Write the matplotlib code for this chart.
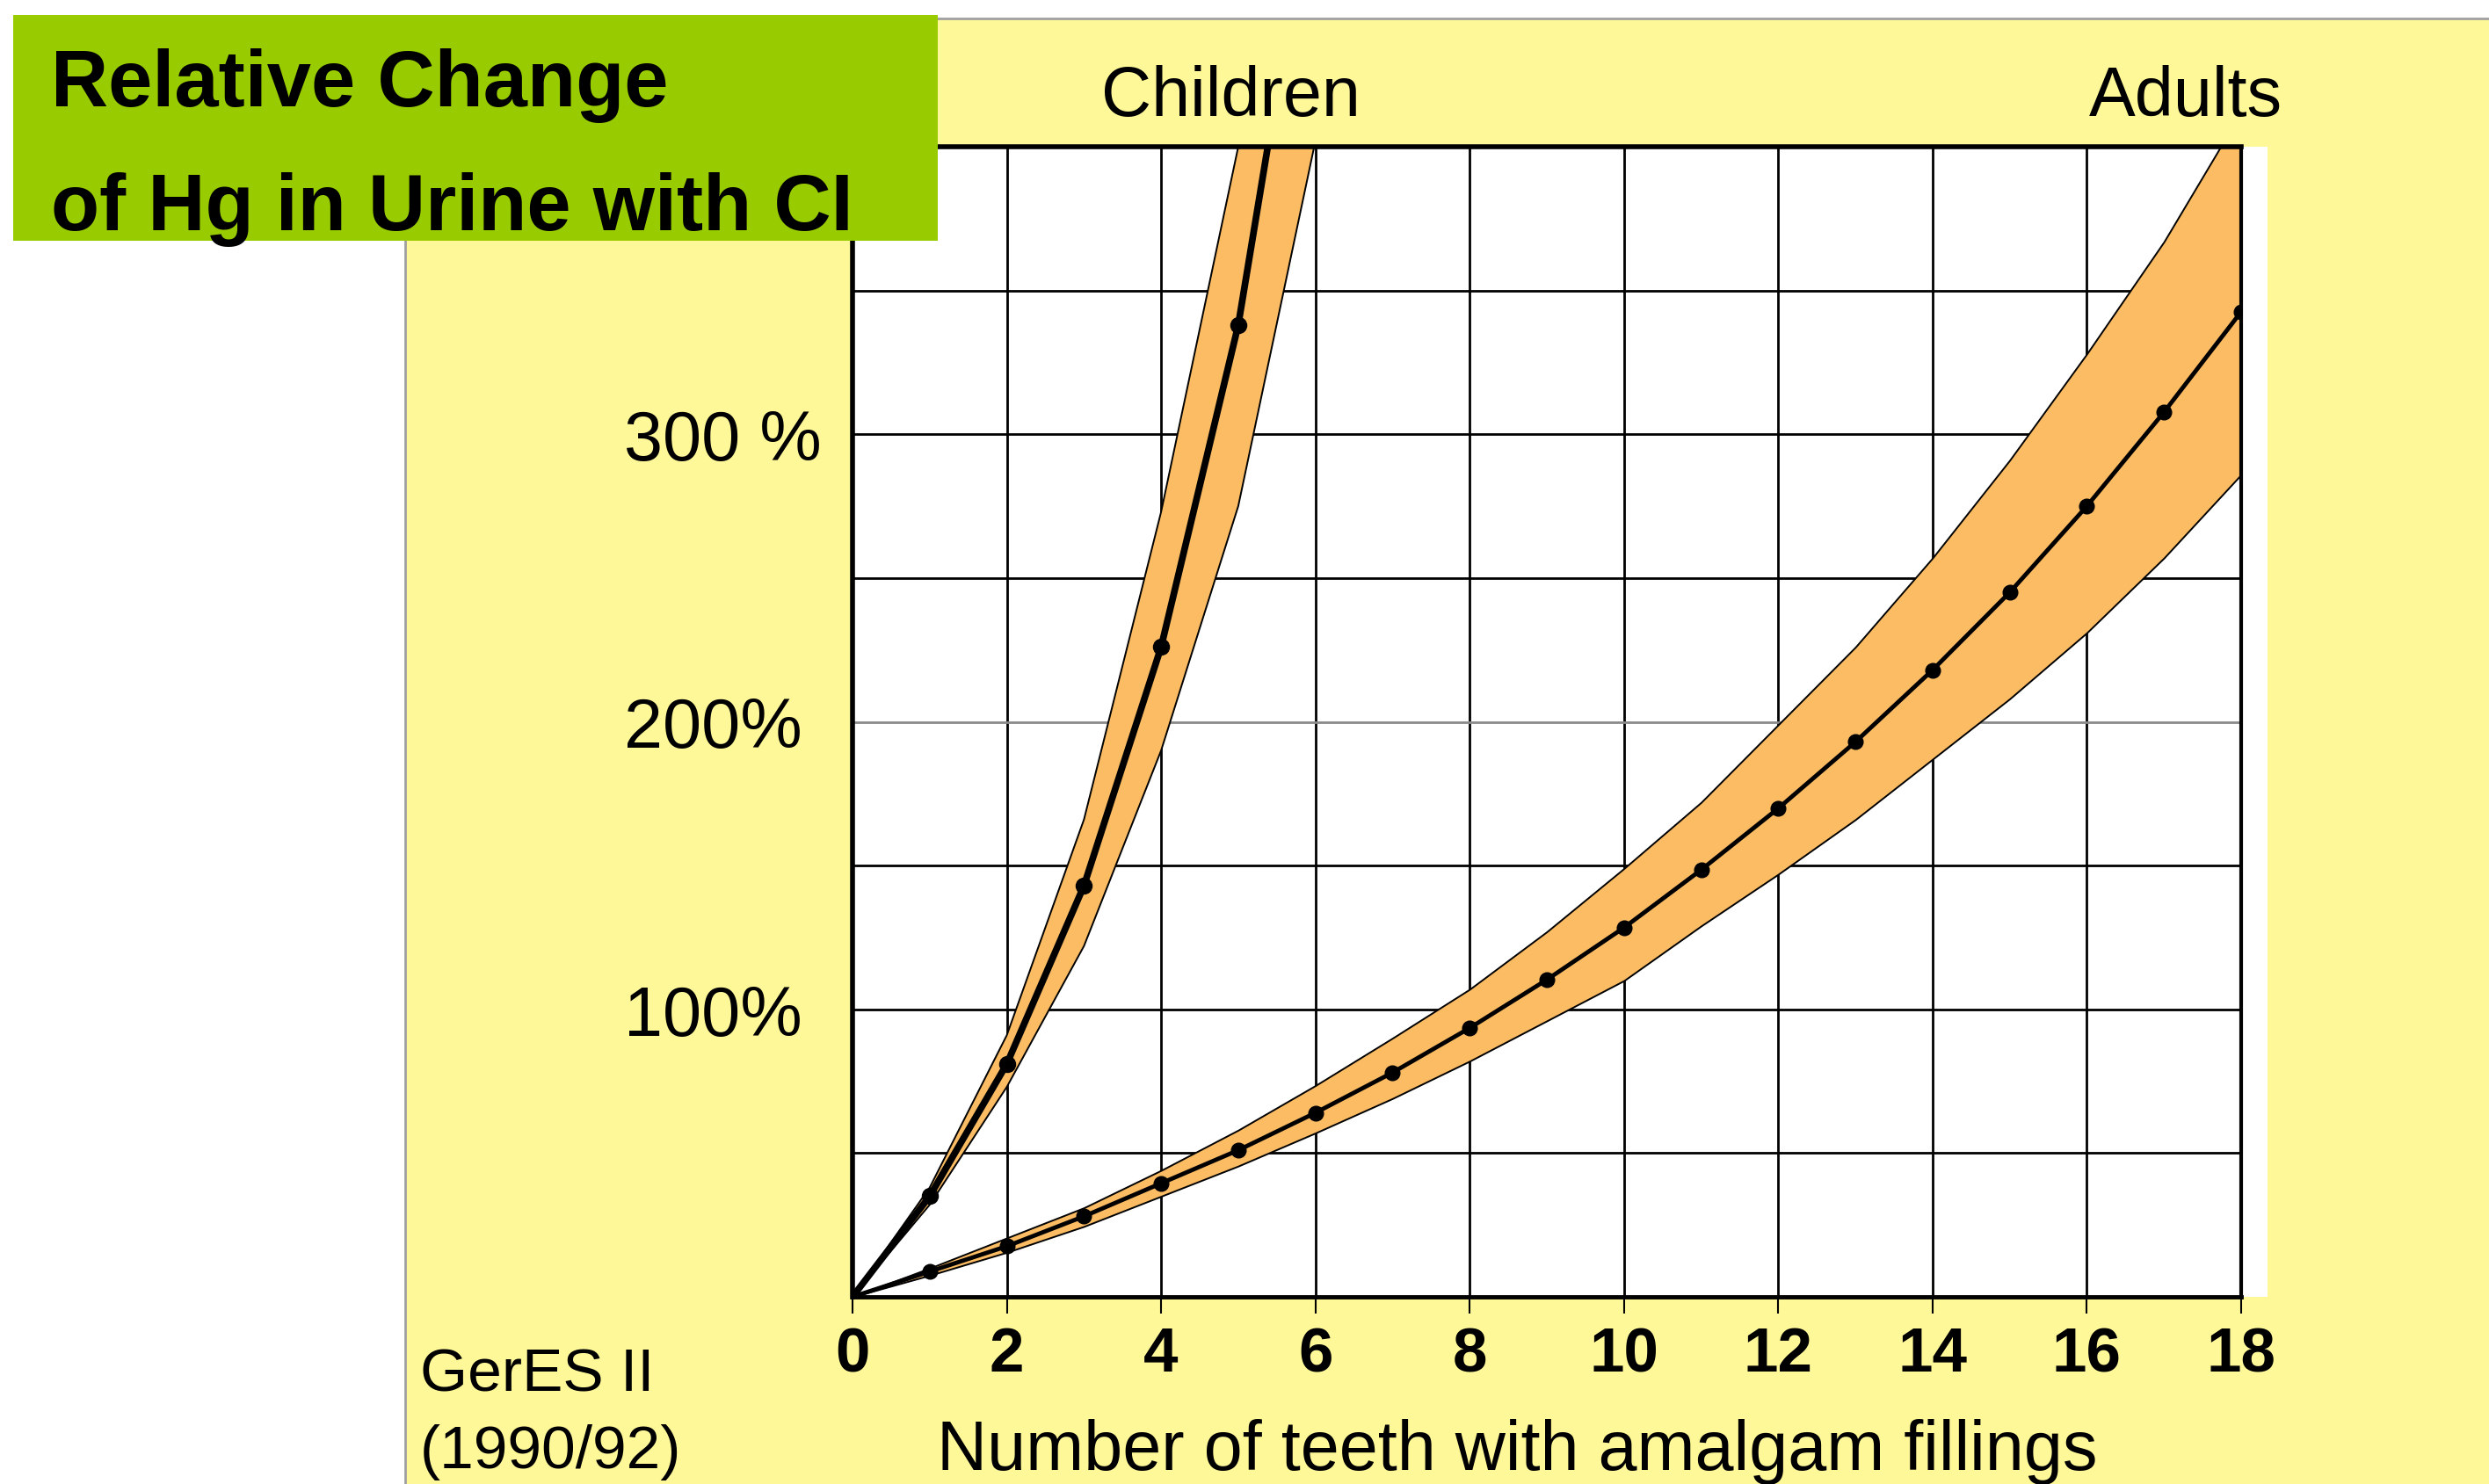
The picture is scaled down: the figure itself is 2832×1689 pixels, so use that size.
import matplotlib
matplotlib.use('Agg')
import matplotlib.pyplot as plt
from matplotlib.patches import Rectangle
from matplotlib.lines import Line2D

plt.rcParams['font.family'] = ['Liberation Sans', 'DejaVu Sans']

# Data (relative change of Hg in urine, %)
children_teeth = [0, 1, 2, 3, 4, 5, 6]
children_mean = [0, 35, 81, 143, 226, 338, 500]
children_low = [0, 32, 73, 122, 190, 275, 402]
children_high = [0, 38, 91, 166, 273, 400, 560]

adult_teeth = list(range(0, 19))
adult_mean = [0, 8.8, 17.6, 28, 39.5, 51, 64, 78, 93.5, 110.3, 128.4, 148.5,
              169.9, 193, 218, 245, 275, 307.7, 342.6]
adult_low = [0, 7.5, 15.5, 24.5, 35, 45.5, 57, 69, 82, 96, 110, 129,
             147, 166, 187, 208, 231, 257, 286]
adult_high = [0, 10, 20.5, 31, 44, 58, 73.5, 90, 107, 127, 149, 172,
              199, 226, 257, 291, 328, 367, 412]

x_ticks = list(range(0, 19, 2))
y_ticks = list(range(0, 401, 50))
y_tick_labels = ['', '', '100%', '', '200%', '', '300 %', '', '']

W, H = 2832, 1690
BAND = '#FCBC64'

fig = plt.figure(figsize=(W / 100, H / 100), dpi=100)
fig.patch.set_facecolor('white')

# yellow slide panel + grey frame lines
fig.add_artist(Rectangle((461 / W, 0), 1 - 461 / W, 1 - 22 / H, transform=fig.transFigure,
                         facecolor='#FFF899', edgecolor='none', zorder=-2))
fig.add_artist(Line2D([461 / W, 461 / W], [0, 1 - 22 / H], transform=fig.transFigure,
                      color='#A0A0A0', lw=2, zorder=-1))
fig.add_artist(Line2D([461 / W, 1], [1 - 22 / H, 1 - 22 / H], transform=fig.transFigure,
                      color='#A0A0A0', lw=2, zorder=-1))
# small white strip right of the plot
fig.add_artist(Rectangle((2550 / W, 1 - 1477 / H), 30 / W, (1477 - 168) / H,
                         transform=fig.transFigure, facecolor='white', edgecolor='none', zorder=-1))

ax = fig.add_axes([970 / W, 1 - 1477 / H, 1580 / W, 1309 / H])
ax.set_facecolor('white')
ax.set_xlim(0, 18)
ax.set_ylim(0, 400)

# grid
ax.set_axisbelow(True)
ax.set_xticks(x_ticks)
ax.set_yticks(y_ticks)
ax.set_yticklabels(y_tick_labels)
ax.grid(True, color='black', lw=2)
for val, gl in zip(y_ticks, ax.get_ygridlines()):
    if val == 200:
        gl.set_color('#8a8a8a')

# bands
ax.fill_between(adult_teeth, adult_low, adult_high, facecolor=BAND,
                edgecolor='black', lw=1.4, zorder=2)
ax.fill_between(children_teeth, children_low, children_high, facecolor=BAND,
                edgecolor='black', lw=1.4, zorder=2)

# mean lines
ax.plot(adult_teeth, adult_mean, color='black', lw=3.5, marker='o', ms=12, zorder=4)
ax.plot(children_teeth, children_mean, color='black', lw=5.5, marker='o', ms=13,
        markevery=list(range(6)), zorder=4)

for side in ['left', 'top']:
    ax.spines[side].set_linewidth(4)
ax.spines['bottom'].set_linewidth(3.5)
ax.spines['right'].set_linewidth(3)

ax.tick_params(axis='x', direction='out', length=14, width=1.5, pad=10,
               labelsize=51)
for lab in ax.get_xticklabels():
    lab.set_fontweight('bold')
ax.tick_params(axis='y', length=0, pad=187, labelsize=57)
for lab in ax.get_yticklabels():
    lab.set_horizontalalignment('left')

# green title box
fig.add_artist(Rectangle((15 / W, 1 - 275 / H), 1052 / W, 257 / H, transform=fig.transFigure,
                         facecolor='#99CC00', edgecolor='none', zorder=5))
fig.text(58 / W, 1 - 121 / H, 'Relative Change', fontsize=65, fontweight='bold',
         va='baseline', ha='left', zorder=6)
fig.text(58 / W, 1 - 262 / H, 'of Hg in Urine with CI', fontsize=65, fontweight='bold',
         va='baseline', ha='left', zorder=6)

fig.text(1400 / W, 1 - 132 / H, 'Children', fontsize=57, ha='center', va='baseline')
fig.text(2487 / W, 1 - 132 / H, 'Adults', fontsize=57, ha='center', va='baseline')

fig.text(478 / W, 1 - 1584 / H, 'GerES II', fontsize=50, ha='left', va='baseline')
fig.text(478 / W, 1 - 1671 / H, '(1990/92)', fontsize=50, ha='left', va='baseline')
fig.text(1066 / W, 1 - 1673 / H, 'Number of teeth with amalgam fillings', fontsize=57,
         ha='left', va='baseline')

fig.savefig('out.png', dpi=100)
